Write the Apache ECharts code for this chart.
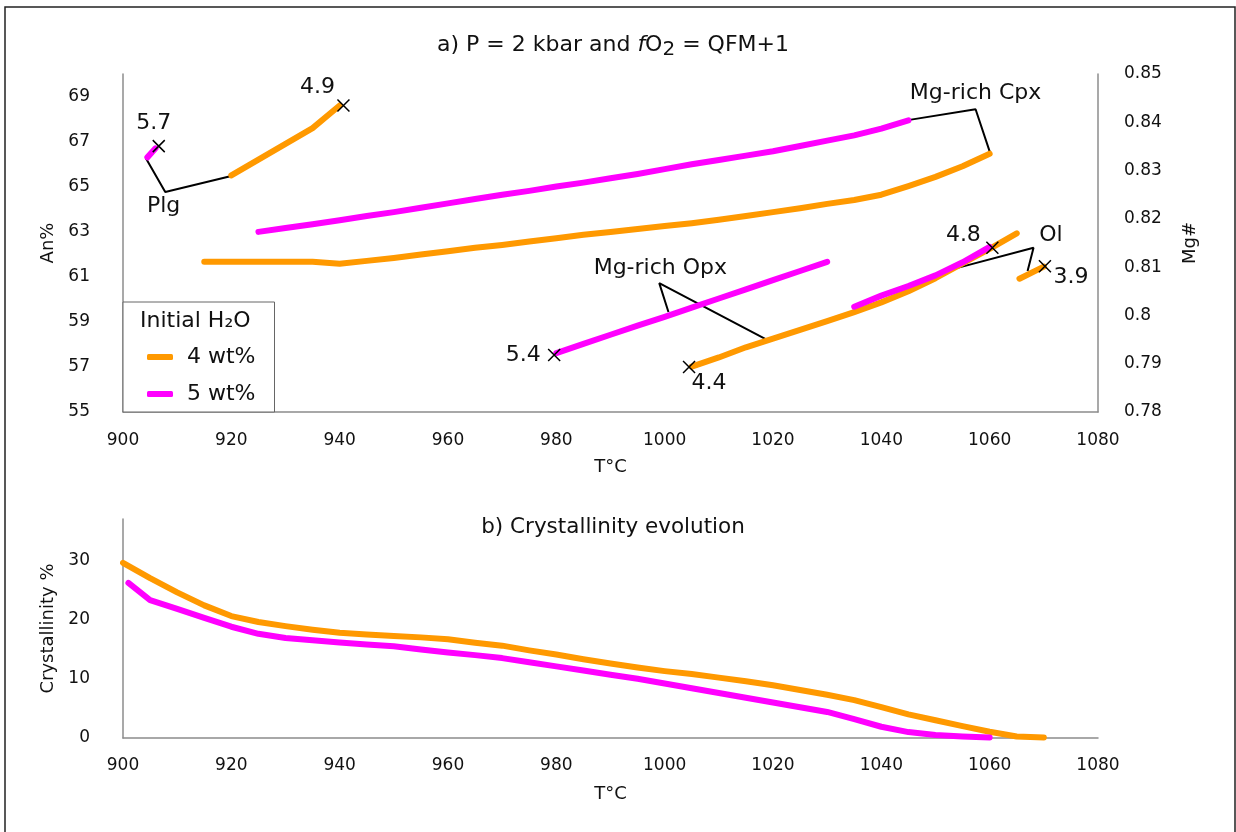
<!DOCTYPE html>
<html>
<head>
<meta charset="utf-8">
<script src="https://cdn.jsdelivr.net/npm/echarts@6/dist/echarts.min.js"></script>
<style>
  html, body { margin: 0; padding: 0; background: #fff; }
  #chart { width: 1236px; height: 832px; }
</style>
</head>
<body>
<div id="chart"></div>
<script>
// ---- Panel a: mineral compositions vs temperature (T °C, value) ----
// Plagioclase An% (left axis)
const plg4 = [[920, 65.5], [925, 66.2], [930, 66.9], [935, 67.6], [940, 68.6]];
const plg5 = [[904.5, 66.3], [906, 66.7]];
// Clinopyroxene Mg# (right axis)
const cpx4 = [[915, 0.8111], [920, 0.8111], [925, 0.8111], [930, 0.8111], [935, 0.8111], [940, 0.8107],
  [945, 0.8113], [950, 0.8119], [955, 0.8126], [960, 0.8133], [965, 0.8140], [970, 0.8146], [975, 0.8153],
  [980, 0.8160], [985, 0.8167], [990, 0.8173], [995, 0.8179], [1000, 0.8185], [1005, 0.8191], [1010, 0.8198],
  [1015, 0.8206], [1020, 0.8214], [1025, 0.8222], [1030, 0.8231], [1035, 0.8239], [1040, 0.8250],
  [1045, 0.8268], [1050, 0.8287], [1055, 0.8309], [1060, 0.8335]];
const cpx5 = [[925, 0.8173], [930, 0.8181], [935, 0.8189], [940, 0.8197], [945, 0.8206], [950, 0.8214],
  [955, 0.8223], [960, 0.8232], [965, 0.8241], [970, 0.8250], [975, 0.8258], [980, 0.8267], [985, 0.8275],
  [990, 0.8284], [995, 0.8293], [1000, 0.8303], [1005, 0.8313], [1010, 0.8322], [1015, 0.8331],
  [1020, 0.8340], [1025, 0.8351], [1030, 0.8362], [1035, 0.8373], [1040, 0.8387], [1045, 0.8404]];
// Orthopyroxene Mg#
const opx4 = [[1005, 0.7894], [1010, 0.7913], [1015, 0.7934], [1020, 0.7952], [1025, 0.7970], [1030, 0.7988],
  [1035, 0.8007], [1040, 0.8027], [1045, 0.8050], [1050, 0.8077], [1055, 0.8108], [1060, 0.8138], [1065, 0.8170]];
const opx5 = [[980, 0.7922], [985, 0.7941], [990, 0.7960], [995, 0.7979], [1000, 0.7997], [1005, 0.8016],
  [1010, 0.8035], [1015, 0.8054], [1020, 0.8073], [1025, 0.8092], [1030, 0.8111]];
// Olivine Mg#
const ol4 = [[1065.5, 0.8076], [1070, 0.8101]];
const ol5 = [[1035, 0.8018], [1040, 0.8041], [1045, 0.8061], [1050, 0.8083], [1055, 0.8110], [1060, 0.8142]];

// Water content (wt%) where each run reaches saturation
const satAnPts = [[906.6, 66.8], [940.7, 68.6]];
const satAnH2O = ['5.7', '4.9'];
const satMgPts = [[979.6, 0.7918], [1004.5, 0.7893], [1060.5, 0.8140], [1070.2, 0.8102]];
const satMgH2O = ['5.4', '4.4', '4.8', '3.9'];

// Phase names and their leader lines
const phaseNames = ['Plg', 'Mg-rich Cpx', 'Mg-rich Opx', 'Ol'];
const plgLabelAt = [907.5, 64.14];
const mgLabelAt = [[1057.4, 0.8460], [999.2, 0.8098], [1071.3, 0.8166]];
const plgLeader = [[904.2, 66.27], [907.8, 64.76], [920, 65.47]];
const cpxLeader = [[1045.2, 0.8405], [1057.4, 0.8427], [1060.1, 0.8336]];
const opxLeader = [[1000.7, 0.8007], [999.0, 0.8067], [1019.0, 0.7949]];
const olLeader = [[1053.9, 0.8098], [1068.1, 0.8140], [1067.0, 0.8092]];

// ---- Panel b: crystallinity (%) vs temperature ----
const crys4 = [[900, 29.6], [905, 27.0], [910, 24.6], [915, 22.4], [920, 20.6], [925, 19.6], [930, 18.9],
  [935, 18.3], [940, 17.8], [945, 17.5], [950, 17.25], [955, 17.0], [960, 16.7], [965, 16.1], [970, 15.6],
  [975, 14.8], [980, 14.1], [985, 13.3], [990, 12.6], [995, 11.9], [1000, 11.3], [1005, 10.8], [1010, 10.2],
  [1015, 9.6], [1020, 8.9], [1025, 8.1], [1030, 7.3], [1035, 6.4], [1040, 5.2], [1045, 4.0], [1050, 3.0],
  [1055, 2.0], [1060, 1.05], [1065, 0.25], [1070, 0.1]];
const crys5 = [[901, 26.2], [905, 23.3], [910, 21.8], [915, 20.3], [920, 18.8], [925, 17.6], [930, 16.9],
  [935, 16.5], [940, 16.15], [945, 15.8], [950, 15.5], [955, 14.95], [960, 14.45], [965, 14.0], [970, 13.5],
  [975, 12.8], [980, 12.1], [985, 11.4], [990, 10.7], [995, 10.0], [1000, 9.2], [1005, 8.4], [1010, 7.6],
  [1015, 6.8], [1020, 6.0], [1025, 5.2], [1030, 4.4], [1035, 3.2], [1040, 1.9], [1045, 1.0], [1050, 0.5],
  [1055, 0.25], [1060, 0.1]];

const tempTicks = { min: 900, max: 1080, step: 20 };
const legendNames = ['4 wt%', '5 wt%'];

// ---- styling ----
const FONT = 'DejaVu Sans';
const ORANGE = '#ff9900';
const MAGENTA = '#ff00ff';
const INK = '#111';
const AXIS_GREY = '#8c8c8c';

const chart = echarts.init(document.getElementById('chart'), null, { renderer: 'canvas' });

function curve(name, data, color, gridIdx, yIdx) {
  return {
    type: 'line', name, data,
    xAxisIndex: gridIdx, yAxisIndex: yIdx,
    symbol: 'none', showSymbol: false, smooth: false,
    lineStyle: { color, width: 6, cap: 'round', join: 'round' },
    itemStyle: { color },
    silent: true, animation: false, z: 3
  };
}
function leader(data, yIdx) {
  return {
    type: 'line', name: 'leader', data, xAxisIndex: 0, yAxisIndex: yIdx,
    symbol: 'none', lineStyle: { color: '#000', width: 2 }, silent: true, animation: false, z: 2
  };
}
const crossSymbol = 'path://M0,0L10,10M10,0L0,10';
function crosses(points, texts, offsets, yIdx) {
  return {
    type: 'scatter', name: 'saturation', xAxisIndex: 0, yAxisIndex: yIdx,
    symbol: crossSymbol, symbolSize: 12, silent: true, animation: false, z: 5,
    itemStyle: { color: 'transparent', borderColor: '#000', borderWidth: 1.5, opacity: 1 },
    data: points.map((p, i) => ({
      value: p,
      label: {
        show: true, position: 'inside', offset: offsets[i], formatter: texts[i],
        fontSize: 22, fontFamily: FONT, color: INK, opacity: 1
      }
    }))
  };
}
function phaseText(points, texts, yIdx) {
  return {
    type: 'scatter', name: 'phase', xAxisIndex: 0, yAxisIndex: yIdx,
    symbolSize: 0, silent: true, animation: false, z: 6,
    itemStyle: { opacity: 1 },
    data: points.map((p, i) => ({
      value: p,
      label: { show: true, position: 'inside', formatter: texts[i], fontSize: 22, fontFamily: FONT, color: INK, opacity: 1 }
    }))
  };
}

const satAnOffsets = [[-5, -23], [-26, -18]];
const satMgOffsets = [[-31, 0], [20, 16], [-29, -13], [26, 11]];

const tickLabel = { fontSize: 17, fontFamily: FONT, color: INK };
const axisName = { fontSize: 18, fontFamily: FONT, color: INK };
const axisLine = { show: true, onZero: false, lineStyle: { color: AXIS_GREY, width: 1.5 } };

function tempAxis(gridIndex, nameGap, margin) {
  return {
    gridIndex, type: 'value', min: tempTicks.min, max: tempTicks.max, interval: tempTicks.step,
    name: 'T°C', nameLocation: 'middle', nameGap, nameTextStyle: axisName,
    axisLine, axisTick: { show: false }, splitLine: { show: false },
    axisLabel: Object.assign({ margin, formatter: v => String(v) }, tickLabel)
  };
}

const option = {
  backgroundColor: '#fff',
  animation: false,
  title: [
    {
      text: '{n|a) P = 2 kbar and }{i|f}{n|O}{s|2}{n| = QFM+1}',
      left: 613, top: 45, padding: 0, textAlign: 'center', textVerticalAlign: 'middle',
      textStyle: {
        fontWeight: 'normal',
        rich: {
          n: { fontSize: 22, fontFamily: FONT, fontWeight: 'normal', color: INK },
          i: { fontSize: 22, fontFamily: FONT, fontWeight: 'normal', fontStyle: 'italic', color: INK },
          s: { fontSize: 20, fontFamily: FONT, fontWeight: 'normal', color: INK, padding: [10, 0, 0, 0] }
        }
      }
    },
    {
      text: 'b) Crystallinity evolution',
      left: 613, top: 527, padding: 0, textAlign: 'center', textVerticalAlign: 'middle',
      textStyle: { fontSize: 21.5, fontFamily: FONT, fontWeight: 'normal', color: INK }
    }
  ],
  legend: {
    data: legendNames, orient: 'vertical', left: 123, top: 302,
    padding: [44, 19, 7, 24], itemWidth: 26, itemHeight: 6, itemGap: 15,
    icon: 'roundRect', selectedMode: false,
    backgroundColor: '#fff', borderColor: '#666', borderWidth: 1, borderRadius: 0,
    textStyle: { fontSize: 22, fontFamily: FONT, color: INK, padding: [0, 0, 0, 9] }
  },
  grid: [
    { left: 123, right: 138, top: 74, height: 338, outerBoundsMode: 'none', containLabel: false },
    { left: 123, right: 138, top: 519, height: 219, outerBoundsMode: 'none', containLabel: false }
  ],
  xAxis: [tempAxis(0, 46, 20), tempAxis(1, 47, 19)],
  yAxis: [
    {
      gridIndex: 0, type: 'value', position: 'left', min: 55, max: 70, interval: 1,
      name: 'An%', nameLocation: 'middle', nameRotate: 90, nameGap: 65, nameTextStyle: axisName,
      axisLine, axisTick: { show: false }, splitLine: { show: false },
      axisLabel: Object.assign({ margin: 33, formatter: v => (Math.round(v) % 2 === 1 ? String(v) : '') }, tickLabel)
    },
    {
      gridIndex: 0, type: 'value', position: 'right', min: 0.78, max: 0.85, interval: 0.01,
      name: 'Mg#', nameLocation: 'middle', nameRotate: 90, nameGap: 83, nameTextStyle: axisName,
      axisLine, axisTick: { show: false }, splitLine: { show: false },
      axisLabel: Object.assign({ margin: 26 }, tickLabel)
    },
    {
      gridIndex: 1, type: 'value', position: 'left', min: 0, max: 37, interval: 10,
      name: 'Crystallinity %', nameLocation: 'middle', nameRotate: 90, nameGap: 64, nameTextStyle: axisName,
      axisLine, axisTick: { show: false }, splitLine: { show: false },
      axisLabel: Object.assign({ margin: 33, formatter: v => (v % 10 === 0 ? String(v) : '') }, tickLabel)
    }
  ],
  graphic: [
    {
      type: 'rect', z: 100, silent: true,
      shape: { x: 5, y: 7, width: 1230, height: 840 },
      style: { fill: 'none', stroke: '#222', lineWidth: 1.5 }
    },
    {
      type: 'text', z: 100, silent: true, x: 140, y: 321,
      style: { text: 'Initial H₂O', fontSize: 22, fontFamily: FONT, fill: INK, verticalAlign: 'middle', align: 'left' }
    }
  ],
  series: [
    leader(plgLeader, 0),
    leader(cpxLeader, 1),
    leader(opxLeader, 1),
    leader(olLeader, 1),
    curve('4 wt%', plg4, ORANGE, 0, 0),
    curve('4 wt%', cpx4, ORANGE, 0, 1),
    curve('4 wt%', opx4, ORANGE, 0, 1),
    curve('4 wt%', ol4, ORANGE, 0, 1),
    curve('5 wt%', plg5, MAGENTA, 0, 0),
    curve('5 wt%', cpx5, MAGENTA, 0, 1),
    curve('5 wt%', opx5, MAGENTA, 0, 1),
    curve('5 wt%', ol5, MAGENTA, 0, 1),
    crosses(satAnPts, satAnH2O, satAnOffsets, 0),
    crosses(satMgPts, satMgH2O, satMgOffsets, 1),
    phaseText([plgLabelAt], [phaseNames[0]], 0),
    phaseText(mgLabelAt, phaseNames.slice(1), 1),
    Object.assign(curve('4 wt%', crys4, ORANGE, 1, 2), { xAxisIndex: 1 }),
    Object.assign(curve('5 wt%', crys5, MAGENTA, 1, 2), { xAxisIndex: 1 })
  ]
};

chart.setOption(option);
</script>
</body>
</html>
